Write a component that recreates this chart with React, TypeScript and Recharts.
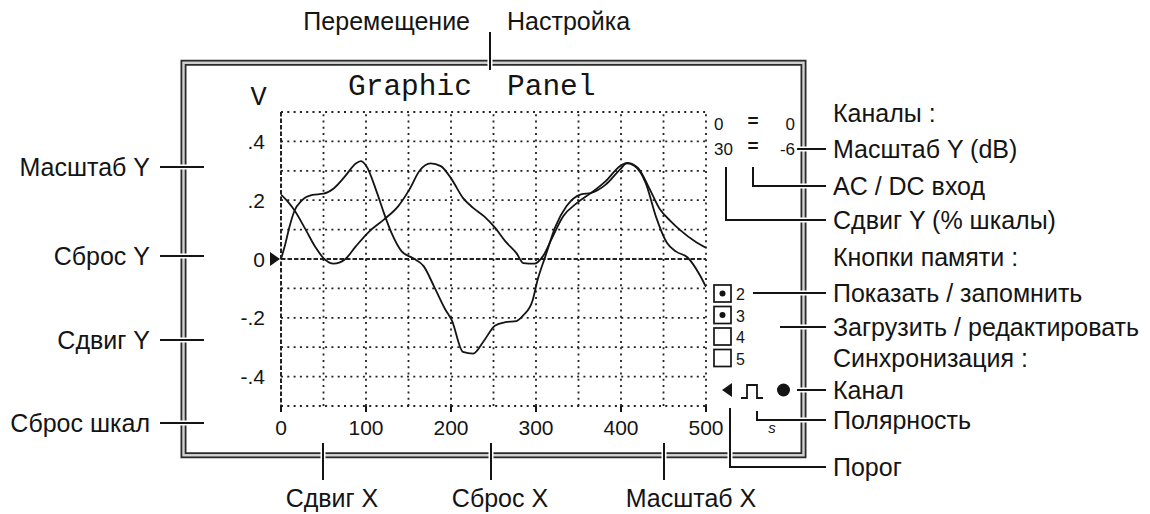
import React from 'react';
import { LineChart, Line, XAxis, YAxis, ReferenceLine } from 'recharts';

// axis ticks and grid values
const xTicks = [0, 100, 200, 300, 400, 500];
const yTicks = [-0.4, -0.2, 0, 0.2, 0.4];
const xGridValues = [50, 100, 150, 200, 250, 300, 350, 400, 450, 500];
const yGridValues = [0.5, 0.4, 0.3, 0.2, 0.1, -0.1, -0.2, -0.3, -0.4, -0.5];

// trace 1 (starts at .22)
const trace1X = [0, 8, 16, 29, 41, 50, 62, 75, 88, 104, 121, 138, 151, 163, 176, 188, 201, 214, 226, 239, 252, 264, 277, 285, 298, 308, 319, 332, 348, 365, 382, 399, 407, 420, 432, 446, 458, 469, 489, 500];
const trace1V = [0.219, 0.195, 0.165, 0.1, 0.038, 0.003, -0.016, -0.002, 0.043, 0.094, 0.134, 0.18, 0.236, 0.3, 0.325, 0.316, 0.27, 0.208, 0.174, 0.145, 0.106, 0.06, 0.02, -0.014, -0.016, 0.009, 0.072, 0.145, 0.19, 0.225, 0.265, 0.316, 0.327, 0.31, 0.248, 0.168, 0.13, 0.1, 0.056, 0.038];

// trace 2 (starts at 0)
const trace2X = [0, 5, 10, 16, 24, 37, 50, 62, 75, 88, 94, 100, 113, 121, 130, 142, 155, 168, 180, 193, 201, 214, 226, 239, 252, 264, 277, 285, 296, 302, 311, 323, 336, 353, 365, 382, 399, 407, 416, 429, 441, 454, 465, 478, 493, 500];
const trace2V = [0, 0.05, 0.11, 0.165, 0.198, 0.218, 0.222, 0.24, 0.28, 0.325, 0.333, 0.318, 0.225, 0.157, 0.089, 0.026, 0.003, -0.025, -0.093, -0.17, -0.209, -0.316, -0.322, -0.277, -0.226, -0.215, -0.211, -0.192, -0.141, -0.07, 0.009, 0.111, 0.18, 0.22, 0.225, 0.253, 0.305, 0.325, 0.316, 0.259, 0.145, 0.055, 0.025, 0.006, -0.056, -0.095];

// annotation texts
const titleWords = ['Graphic', 'Panel'];
const topLabels = ['Перемещение', 'Настройка'];
const leftLabels = ['Масштаб Y', 'Сброс Y', 'Сдвиг Y', 'Сброс шкал'];
const bottomLabels = ['Сдвиг X', 'Сброс X', 'Масштаб X'];
const rightLabels = [
  'Каналы :',
  'Масштаб Y (dB)',
  'AC / DC вход',
  'Сдвиг Y (% шкалы)',
  'Кнопки памяти :',
  'Показать / запомнить',
  'Загрузить / редактировать',
  'Синхронизация :',
  'Канал',
  'Полярность',
  'Порог',
];
const channelRows = [['0', '=', '0'], ['30', '=', '-6']];
const memoryButtons = ['2', '3', '4', '5'];
const memoryChecked = [true, true, false, false];

const trace1 = trace1X.map((x, i) => ({ x, v: trace1V[i] }));
const trace2 = trace2X.map((x, i) => ({ x, v: trace2V[i] }));

const SANS = '"Liberation Sans", Arial, sans-serif';
const MONO = '"Liberation Mono", "Courier New", monospace';
const INK = '#141414';

// layout of the annotations
const leftY = [167, 256, 340, 423];
const rightY = [113, 149, 186, 220, 257, 293, 327, 358, 390, 420, 467];
const bottomX = [323, 491, 664];
const bottomTextX = [332, 500, 691];
const rightCrossY = [149, 186, 220, 293, 327, 390, 420];

const fmtY = (v: number) => (v === 0 ? '0' : String(v).replace('0.', '.'));

function YTick(props: any) {
  const { x, y, payload } = props;
  return (
    <g>
      <text x={x} y={y} dy={7.5} textAnchor="end" fontSize={21} fontFamily={SANS} fill={INK}>
        {fmtY(payload.value)}
      </text>
      {payload.value === 0 && (
        <polygon points={`${x + 5},${y - 7} ${x + 5},${y + 7} ${x + 15},${y}`} fill={INK} />
      )}
    </g>
  );
}

const gridStyle = { stroke: '#222', strokeWidth: 1.8, strokeDasharray: '2 4.3' };

function Overlay() {
  return (
    <svg width={1150} height={514} style={{ position: 'absolute', left: 0, top: 0, pointerEvents: 'none' }}>
      {/* double frame */}
      <rect x={183.5} y={62.75} width={620} height={392.5} fill="none" stroke="#2b2b2b" strokeWidth={6} />
      <rect x={183.5} y={62.75} width={620} height={392.5} fill="none" stroke="#d2d2d2" strokeWidth={2.4} />

      {/* small breaks where connectors cross the frame */}
      {leftY.map((y) => (
        <rect key={'lg' + y} x={178} y={y - 2.5} width={11} height={5} fill="#fff" />
      ))}
      {rightCrossY.map((y) => (
        <rect key={'rg' + y} x={798} y={y - 2.5} width={11} height={5} fill="#fff" />
      ))}
      {[...bottomX, 730].map((x) => (
        <rect key={'bg' + x} x={x - 2.5} y={450} width={5} height={11} fill="#fff" />
      ))}
      <rect x={487.5} y={58} width={5} height={11} fill="#fff" />

      <g stroke={INK} strokeWidth={2} fill="none">
        {leftY.map((y) => (
          <line key={'l' + y} x1={160} y1={y} x2={204} y2={y} />
        ))}
        <line x1={490} y1={32} x2={490} y2={70} />
        {bottomX.map((x) => (
          <line key={'b' + x} x1={x} y1={443} x2={x} y2={480} />
        ))}
        <path d="M 797 149 H 826" />
        <path d="M 753 167 V 186 H 826" />
        <path d="M 726 167 V 220 H 826" />
        <path d="M 753 293 H 826" />
        <path d="M 780 327 H 826" />
        <path d="M 797 390 H 826" />
        <path d="M 757 411 V 420 H 826" />
        <path d="M 730 408 V 467 H 826" />
        {/* pulse symbol */}
        <path d="M 741 398 H 747 V 385 H 757 V 398 H 763" strokeWidth={1.8} />
      </g>

      {/* title and unit */}
      <text x={348} y={95} fontFamily={MONO} fontSize={29.5} fill={INK}>{titleWords[0]}</text>
      <text x={507} y={95} fontFamily={MONO} fontSize={29.5} fill={INK}>{titleWords[1]}</text>
      <text x={258.5} y={105} textAnchor="middle" fontFamily={MONO} fontSize={27} fill={INK}>V</text>

      {/* top labels */}
      <text x={470} y={30} textAnchor="end" fontFamily={SANS} fontSize={25} fill={INK}>{topLabels[0]}</text>
      <text x={507} y={30} fontFamily={SANS} fontSize={25} fill={INK}>{topLabels[1]}</text>

      {leftLabels.map((t, i) => (
        <text key={t} x={150} y={leftY[i] + 9} textAnchor="end" fontFamily={SANS} fontSize={25} fill={INK}>{t}</text>
      ))}
      {bottomLabels.map((t, i) => (
        <text key={t} x={bottomTextX[i]} y={507} textAnchor="middle" fontFamily={SANS} fontSize={25} fill={INK}>{t}</text>
      ))}
      {rightLabels.map((t, i) => (
        <text key={t} x={833} y={rightY[i] + 9} fontFamily={SANS} fontSize={25} fill={INK}>{t}</text>
      ))}

      {/* channel settings */}
      {channelRows.map((row, i) => {
        const base = 130 + i * 25;
        return (
          <g key={'cr' + i} fontFamily={SANS} fontSize={17} fill={INK}>
            <text x={714} y={base}>{row[0]}</text>
            <text x={753} y={base - 3} textAnchor="middle" fontWeight="bold" fontSize={19}>{row[1]}</text>
            <text x={795} y={base} textAnchor="end">{row[2]}</text>
          </g>
        );
      })}

      {/* memory buttons */}
      {memoryButtons.map((t, i) => {
        const y = 285 + i * 21.5;
        return (
          <g key={'m' + t}>
            <rect x={714} y={y} width={17} height={17} fill="#fff" stroke={INK} strokeWidth={1.7} />
            {memoryChecked[i] && <circle cx={722.5} cy={y + 8.5} r={3} fill={INK} />}
            <text x={736} y={y + 15} fontFamily={SANS} fontSize={16} fill={INK}>{t}</text>
          </g>
        );
      })}

      {/* sync */}
      <polygon points="722,390 732,383 732,397" fill={INK} />
      <circle cx={783.5} cy={390} r={6.5} fill={INK} />
      <text x={772} y={433} textAnchor="middle" fontFamily={SANS} fontStyle="italic" fontSize={15} fill={INK}>s</text>
    </svg>
  );
}

export default function App() {
  return (
    <div style={{ position: 'absolute', left: 0, top: 0, width: 1150, height: 514, background: '#fff' }}>
      <LineChart width={1150} height={514} margin={{ top: 112, right: 444, bottom: 68, left: 241 }}>
        <XAxis
          dataKey="x"
          type="number"
          domain={[0, 500]}
          ticks={xTicks}
          height={40}
          axisLine={false}
          tickLine={{ stroke: INK, strokeWidth: 2 }}
          tickSize={6}
          tickMargin={8}
          tick={{ fill: INK, fontSize: 21, fontFamily: SANS }}
          allowDataOverflow
        />
        <YAxis
          type="number"
          domain={[-0.5, 0.5]}
          ticks={yTicks}
          width={40}
          axisLine={{ stroke: '#222', strokeWidth: 2, strokeDasharray: '4.5 2' }}
          tickLine={false}
          tickSize={0}
          tickMargin={16}
          tick={<YTick />}
          allowDataOverflow
        />
        {yGridValues.map((v) => (
          <ReferenceLine key={'h' + v} y={v} {...gridStyle} />
        ))}
        {xGridValues.map((v) => (
          <ReferenceLine key={'v' + v} x={v} {...gridStyle} />
        ))}
        <ReferenceLine y={0} stroke="#222" strokeWidth={1.8} strokeDasharray="4.5 2" />
        <Line data={trace1} dataKey="v" type="monotone" stroke={INK} strokeWidth={1.8} dot={false} isAnimationActive={false} />
        <Line data={trace2} dataKey="v" type="monotone" stroke={INK} strokeWidth={1.8} dot={false} isAnimationActive={false} />
      </LineChart>
      <Overlay />
    </div>
  );
}
